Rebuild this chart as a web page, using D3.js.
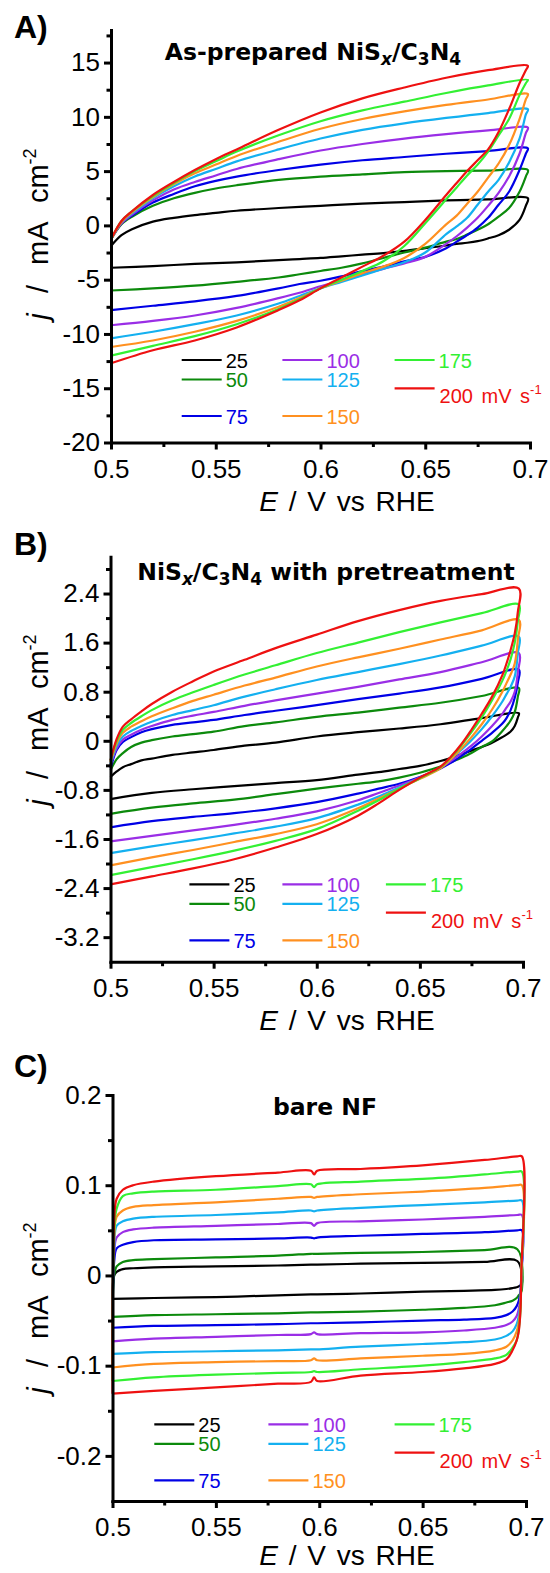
<!DOCTYPE html>
<html>
<head>
<meta charset="utf-8">
<script src="https://cdn.jsdelivr.net/npm/d3@7"></script>
<style>
  html, body { margin: 0; padding: 0; background: #fff; }
  svg text { font-family: "Liberation Sans", Arial, Helvetica, sans-serif; }
  .title { font-family: "DejaVu Sans", sans-serif; font-weight: bold; }
</style>
</head>
<body>
<svg id="chart" width="550" height="1573"></svg>
<script>
// Cyclic voltammograms at different scan rates, three panels.
const rates = [25, 50, 75, 100, 125, 150, 175, 200];
const colors = ["#000000", "#0c8a0c", "#0000e6", "#9a2ee6", "#14b0f0", "#ff9020", "#33f033", "#ee1111"];

const xMajor = [0.5, 0.55, 0.6, 0.65, 0.7];
const xMinor = [0.525, 0.575, 0.625, 0.675];

// Panel A: as-prepared (mA cm-2)
const aFwdE = [0.5, 0.505, 0.51, 0.52, 0.53, 0.54, 0.55, 0.56, 0.58, 0.6, 0.62, 0.64, 0.66, 0.68, 0.699];
const aFwdJ = [
  [-1.9, -0.9, -0.35, 0.35, 0.7, 0.95, 1.15, 1.35, 1.6, 1.8, 2.0, 2.15, 2.3, 2.4, 2.5],
  [-1.3, 0.1, 0.8, 1.8, 2.5, 3.0, 3.4, 3.7, 4.2, 4.5, 4.7, 4.9, 5.0, 5.05, 5.1],
  [-1.3, 0.2, 0.9, 2.1, 2.9, 3.6, 4.1, 4.5, 5.1, 5.6, 6.0, 6.3, 6.6, 6.85, 7.1],
  [-1.3, 0.2, 1.0, 2.3, 3.3, 4.0, 4.6, 5.2, 6.1, 6.9, 7.5, 8.0, 8.4, 8.75, 9.0],
  [-1.3, 0.3, 1.1, 2.5, 3.6, 4.5, 5.2, 5.9, 7.0, 8.0, 8.8, 9.4, 9.9, 10.35, 10.7],
  [-1.3, 0.3, 1.2, 2.6, 3.8, 4.8, 5.6, 6.4, 7.7, 8.9, 9.8, 10.5, 11.1, 11.6, 12.1],
  [-1.3, 0.4, 1.3, 2.7, 3.9, 5.0, 5.9, 6.8, 8.3, 9.6, 10.6, 11.4, 12.2, 12.9, 13.4],
  [-1.3, 0.4, 1.3, 2.8, 4.0, 5.1, 6.1, 7.0, 8.8, 10.4, 11.7, 12.7, 13.6, 14.3, 14.7]
];
const aRevE = [0.699, 0.698, 0.695, 0.69, 0.685, 0.68, 0.675, 0.67, 0.665, 0.66, 0.65, 0.64, 0.63, 0.62, 0.61, 0.6, 0.59, 0.58, 0.56, 0.54, 0.52, 0.5];
const aRevJ = [
  [2.5, 1.8, 0.5, -0.4, -0.9, -1.2, -1.45, -1.6, -1.7, -1.85, -2.1, -2.35, -2.55, -2.7, -2.85, -3.0, -3.1, -3.2, -3.4, -3.55, -3.75, -3.9],
  [5.1, 4.5, 3.1, 1.6, 0.8, 0.1, -0.4, -0.85, -1.25, -1.5, -2.05, -2.5, -3.0, -3.5, -3.9, -4.2, -4.5, -4.8, -5.2, -5.55, -5.8, -6.0],
  [7.1, 6.6, 5.1, 3.1, 1.9, 0.7, -0.2, -0.9, -1.5, -2.1, -2.9, -3.3, -3.8, -4.2, -4.7, -5.1, -5.4, -5.8, -6.5, -7.0, -7.4, -7.8],
  [9.0, 8.5, 6.6, 4.5, 3.0, 1.8, 0.7, -0.2, -1.0, -1.7, -2.9, -3.5, -4.0, -4.5, -5.1, -5.6, -6.2, -6.7, -7.6, -8.3, -8.8, -9.2],
  [10.7, 10.2, 8.0, 5.8, 4.2, 3.1, 1.9, 0.7, -0.1, -0.8, -2.5, -3.4, -4.0, -4.6, -5.2, -5.8, -6.5, -7.2, -8.3, -9.1, -9.8, -10.4],
  [12.1, 11.6, 9.8, 7.4, 5.7, 4.4, 3.1, 2.0, 0.9, 0.1, -1.7, -3.0, -3.8, -4.4, -5.1, -5.8, -6.7, -7.5, -8.8, -9.8, -10.6, -11.2],
  [13.4, 13.1, 12.0, 9.8, 8.3, 6.8, 5.6, 4.6, 3.5, 2.4, 0.2, -1.9, -3.3, -4.2, -5.0, -5.8, -6.8, -7.7, -9.1, -10.2, -11.1, -12.0],
  [14.7, 14.3, 13.1, 10.7, 8.6, 7.0, 6.0, 5.0, 3.9, 2.8, 0.5, -1.5, -2.8, -3.8, -4.8, -5.8, -6.9, -7.8, -9.4, -10.6, -11.5, -12.7]
];

// Panel B: with pretreatment
const bFwdE = [0.5, 0.503, 0.506, 0.51, 0.515, 0.52, 0.53, 0.54, 0.55, 0.565, 0.58, 0.6, 0.62, 0.64, 0.66, 0.68, 0.698];
const bFwdJ = [
  [-0.59, -0.5, -0.43, -0.38, -0.32, -0.29, -0.23, -0.19, -0.15, -0.08, -0.03, 0.07, 0.14, 0.2, 0.27, 0.37, 0.45],
  [-0.48, -0.3, -0.2, -0.1, -0.03, 0.01, 0.07, 0.11, 0.15, 0.24, 0.3, 0.39, 0.46, 0.54, 0.62, 0.73, 0.86],
  [-0.45, -0.15, -0.02, 0.06, 0.14, 0.19, 0.26, 0.3, 0.34, 0.42, 0.49, 0.58, 0.68, 0.77, 0.87, 1.01, 1.16],
  [-0.4, -0.12, 0.02, 0.1, 0.18, 0.24, 0.34, 0.41, 0.47, 0.57, 0.66, 0.77, 0.88, 1.0, 1.12, 1.28, 1.43],
  [-0.38, -0.08, 0.07, 0.16, 0.24, 0.31, 0.42, 0.5, 0.58, 0.72, 0.84, 0.99, 1.12, 1.25, 1.39, 1.55, 1.7],
  [-0.35, -0.04, 0.13, 0.23, 0.32, 0.4, 0.53, 0.65, 0.75, 0.9, 1.03, 1.21, 1.36, 1.5, 1.65, 1.8, 1.97],
  [-0.32, 0.0, 0.18, 0.29, 0.4, 0.5, 0.66, 0.79, 0.91, 1.08, 1.23, 1.43, 1.6, 1.77, 1.93, 2.08, 2.22],
  [-0.32, 0.03, 0.23, 0.35, 0.48, 0.6, 0.8, 0.97, 1.13, 1.32, 1.51, 1.73, 1.95, 2.13, 2.28, 2.39, 2.48]
];
const bRevE = [0.698, 0.6975, 0.696, 0.694, 0.692, 0.69, 0.685, 0.68, 0.675, 0.67, 0.665, 0.66, 0.65, 0.64, 0.63, 0.62, 0.6, 0.58, 0.56, 0.54, 0.52, 0.5];
const bRevJ = [
  [0.45, 0.38, 0.24, 0.15, 0.1, 0.06, -0.03, -0.1, -0.16, -0.22, -0.28, -0.33, -0.41, -0.46, -0.51, -0.55, -0.64, -0.69, -0.74, -0.79, -0.85, -0.95],
  [0.86, 0.72, 0.47, 0.33, 0.24, 0.16, -0.01, -0.1, -0.2, -0.28, -0.35, -0.42, -0.52, -0.6, -0.66, -0.7, -0.78, -0.87, -0.96, -1.02, -1.09, -1.19],
  [1.16, 0.95, 0.7, 0.5, 0.37, 0.28, 0.13, 0.0, -0.13, -0.25, -0.36, -0.45, -0.59, -0.7, -0.78, -0.86, -1.0, -1.1, -1.18, -1.24, -1.31, -1.41],
  [1.43, 1.12, 0.8, 0.64, 0.54, 0.44, 0.24, 0.07, -0.08, -0.21, -0.33, -0.44, -0.6, -0.73, -0.85, -0.97, -1.15, -1.27, -1.37, -1.46, -1.55, -1.64],
  [1.7, 1.43, 1.05, 0.88, 0.76, 0.64, 0.4, 0.19, 0.01, -0.15, -0.3, -0.44, -0.61, -0.76, -0.91, -1.04, -1.26, -1.4, -1.51, -1.62, -1.72, -1.83],
  [1.97, 1.65, 1.26, 1.08, 0.94, 0.8, 0.51, 0.27, 0.06, -0.13, -0.3, -0.45, -0.62, -0.78, -0.94, -1.1, -1.36, -1.52, -1.65, -1.78, -1.9, -2.03],
  [2.22, 1.95, 1.6, 1.33, 1.14, 0.98, 0.66, 0.38, 0.14, -0.08, -0.27, -0.43, -0.61, -0.78, -0.97, -1.14, -1.44, -1.63, -1.79, -1.93, -2.06, -2.19],
  [2.48, 2.1, 1.75, 1.48, 1.26, 1.07, 0.72, 0.44, 0.18, -0.06, -0.26, -0.42, -0.6, -0.8, -1.02, -1.22, -1.52, -1.74, -1.93, -2.08, -2.21, -2.34]
];

// Panel C: bare NF
const cFwdE = [0.5, 0.5008, 0.502, 0.505, 0.51, 0.52, 0.55, 0.58, 0.596, 0.5975, 0.599, 0.62, 0.65, 0.68, 0.6958, 0.698];
const cFwdJ = [
  [-0.026, 0.0, 0.004, 0.007, 0.008, 0.009, 0.01, 0.011, 0.012, 0.012, 0.012, 0.013, 0.014, 0.015, 0.016, -0.009],
  [-0.046, 0.0, 0.01, 0.015, 0.017, 0.018, 0.02, 0.022, 0.024, 0.024, 0.024, 0.025, 0.026, 0.028, 0.029, -0.016],
  [-0.058, 0.015, 0.03, 0.034, 0.037, 0.039, 0.04, 0.041, 0.042, 0.041, 0.042, 0.044, 0.046, 0.048, 0.05, 0.05],
  [-0.073, 0.025, 0.042, 0.048, 0.051, 0.053, 0.055, 0.057, 0.058, 0.055, 0.058, 0.06, 0.062, 0.065, 0.067, 0.067],
  [-0.087, 0.03, 0.055, 0.06, 0.063, 0.065, 0.067, 0.07, 0.072, 0.071, 0.072, 0.075, 0.078, 0.081, 0.083, 0.083],
  [-0.102, 0.04, 0.065, 0.072, 0.076, 0.078, 0.081, 0.085, 0.087, 0.086, 0.087, 0.09, 0.093, 0.097, 0.1, 0.1],
  [-0.117, 0.05, 0.074, 0.088, 0.091, 0.093, 0.095, 0.099, 0.101, 0.098, 0.101, 0.104, 0.107, 0.112, 0.115, 0.115],
  [-0.131, 0.06, 0.085, 0.095, 0.1, 0.104, 0.11, 0.114, 0.116, 0.112, 0.116, 0.118, 0.122, 0.128, 0.132, 0.132]
];
const cRevE = [0.698, 0.6977, 0.6973, 0.6965, 0.6955, 0.6935, 0.6905, 0.685, 0.67, 0.65, 0.62, 0.599, 0.5975, 0.596, 0.58, 0.55, 0.52, 0.5];
const cRevJ = [
  [-0.009, -0.01, -0.011, -0.012, -0.013, -0.014, -0.015, -0.016, -0.017, -0.018, -0.02, -0.021, -0.021, -0.021, -0.022, -0.024, -0.025, -0.026],
  [-0.016, -0.018, -0.02, -0.022, -0.025, -0.028, -0.03, -0.033, -0.036, -0.038, -0.04, -0.041, -0.041, -0.041, -0.042, -0.043, -0.044, -0.046],
  [0.05, 0.0, -0.018, -0.028, -0.034, -0.04, -0.044, -0.047, -0.049, -0.05, -0.052, -0.053, -0.053, -0.053, -0.054, -0.055, -0.056, -0.058],
  [0.067, 0.0, -0.025, -0.037, -0.045, -0.051, -0.055, -0.058, -0.061, -0.063, -0.064, -0.065, -0.063, -0.065, -0.066, -0.068, -0.07, -0.073],
  [0.083, 0.0, -0.03, -0.045, -0.054, -0.062, -0.067, -0.071, -0.074, -0.076, -0.079, -0.082, -0.082, -0.082, -0.083, -0.084, -0.085, -0.087],
  [0.1, 0.0, -0.035, -0.052, -0.062, -0.072, -0.079, -0.083, -0.087, -0.089, -0.092, -0.094, -0.092, -0.094, -0.095, -0.096, -0.098, -0.102],
  [0.115, 0.0, -0.04, -0.06, -0.072, -0.08, -0.088, -0.092, -0.096, -0.1, -0.104, -0.107, -0.106, -0.107, -0.108, -0.11, -0.113, -0.117],
  [0.132, 0.0, -0.04, -0.062, -0.072, -0.083, -0.093, -0.098, -0.103, -0.107, -0.111, -0.117, -0.113, -0.118, -0.12, -0.124, -0.128, -0.131]
];

const fmt1 = d => (d === 0 ? "0" : d.toFixed(1));

const panels = [
  {
    tag: "A)", tagY: 38, x0: 111, x1: 530, yTop: 30, yBot: 442.5, yDomain: [-20, 18],
    yMajor: [-20, -15, -10, -5, 0, 5, 10, 15], yMinor: [-17.5, -12.5, -7.5, -2.5, 2.5, 7.5, 12.5, 17.5],
    yFmt: d => String(d),
    title: [["As-prepared NiS"], ["x", "sub"], ["/C"], ["3", "sub"], ["N"], ["4", "sub"]],
    titleX: 313, titleY: 60, xTitleY: 511, yTitleY: 234,
    legCols: [181.7, 282.4, 394.6], legTop: 360,
    fwdE: aFwdE, fwdJ: aFwdJ, revE: aRevE, revJ: aRevJ
  },
  {
    tag: "B)", tagY: 555, x0: 110.5, x1: 523, yTop: 556.7, yBot: 961.7, yDomain: [-3.6, 3.0],
    yMajor: [-3.2, -2.4, -1.6, -0.8, 0, 0.8, 1.6, 2.4], yMinor: [-2.8, -2.0, -1.2, -0.4, 0.4, 1.2, 2.0, 2.8],
    yFmt: fmt1,
    title: [["NiS"], ["x", "sub"], ["/C"], ["3", "sub"], ["N"], ["4", "sub"], [" with pretreatment"]],
    titleX: 326, titleY: 580, xTitleY: 1030, yTitleY: 720,
    legCols: [189.4, 282.4, 385.9], legTop: 884.3,
    fwdE: bFwdE, fwdJ: bFwdJ, revE: bRevE, revJ: bRevJ
  },
  {
    tag: "C)", tagY: 1077, x0: 112.5, x1: 526, yTop: 1095, yBot: 1501, yDomain: [-0.25, 0.2],
    yMajor: [-0.2, -0.1, 0, 0.1, 0.2], yMinor: [-0.15, -0.05, 0.05, 0.15],
    yFmt: fmt1,
    title: [["bare NF"]],
    titleX: 325, titleY: 1115, xTitleY: 1565, yTitleY: 1308,
    legCols: [154.3, 268.4, 394.6], legTop: 1424.3,
    fwdE: cFwdE, fwdJ: cFwdJ, revE: cRevE, revJ: cRevJ
  }
];

const svg = d3.select("#chart");

function styleAxis(sel, size) {
  sel.attr("font-size", size).attr("font-family", null);
  sel.selectAll("line").attr("stroke", "#000").attr("stroke-width", 3);
  sel.selectAll("path.domain").attr("stroke", "#000").attr("stroke-width", 3).attr("stroke-linecap", "square");
  sel.selectAll("text").attr("fill", "#000");
}

function drawPanel(p) {
  const x = d3.scaleLinear().domain([0.5, 0.7]).range([p.x0, p.x1]);
  const y = d3.scaleLinear().domain(p.yDomain).range([p.yBot, p.yTop]);
  const g = svg.append("g");

  // curves: forward sweep then reverse sweep, black first, red on top
  const line = d3.line()
    .x(d => x(d[0]))
    .y(d => y(d[1]))
    .curve(d3.curveCatmullRom.alpha(0.5));

  rates.forEach((r, i) => {
    const pts = p.fwdE.map((e, k) => [e, p.fwdJ[i][k]])
      .concat(p.revE.map((e, k) => [e, p.revJ[i][k]]));
    const uniq = pts.filter((q, k) => k === 0 || q[0] !== pts[k - 1][0] || q[1] !== pts[k - 1][1]);
    g.append("path")
      .attr("d", line(uniq))
      .attr("fill", "none")
      .attr("stroke", colors[i])
      .attr("stroke-width", 2.2)
      .attr("stroke-linejoin", "round");
  });

  // axes (minor ticks first, then major with labels)
  const xg = g.append("g").attr("transform", `translate(0,${p.yBot})`);
  xg.append("g").call(d3.axisBottom(x).tickValues(xMinor).tickSize(4.5).tickSizeOuter(0).tickFormat(""))
    .call(s => s.select(".domain").remove())
    .call(s => styleAxis(s, 26));
  xg.append("g").call(d3.axisBottom(x).tickValues(xMajor).tickSize(7).tickSizeOuter(0).tickPadding(10)
      .tickFormat(d => String(+d.toFixed(2))))
    .call(s => styleAxis(s, 26));

  const yg = g.append("g").attr("transform", `translate(${p.x0},0)`);
  yg.append("g").call(d3.axisLeft(y).tickValues(p.yMinor).tickSize(4.5).tickSizeOuter(0).tickFormat(""))
    .call(s => s.select(".domain").remove())
    .call(s => styleAxis(s, 26));
  yg.append("g").call(d3.axisLeft(y).tickValues(p.yMajor).tickSize(7).tickSizeOuter(0).tickPadding(4)
      .tickFormat(p.yFmt))
    .call(s => styleAxis(s, 26));

  // panel tag
  g.append("text").attr("x", 14).attr("y", p.tagY)
    .attr("font-size", 32).attr("font-weight", "bold").text(p.tag);

  // title
  const t = g.append("text").attr("class", "title")
    .attr("x", p.titleX).attr("y", p.titleY)
    .attr("text-anchor", "middle").attr("font-size", 23.5);
  p.title.forEach(([s, kind]) => {
    const ts = t.append("tspan").text(s);
    if (kind === "sub") {
      ts.attr("font-size", 17).attr("dy", 5);
      if (s === "x") ts.attr("font-style", "italic");
    } else if (t.selectAll("tspan").size() > 1) {
      ts.attr("dy", -5);
    }
  });

  // x title
  const xt = g.append("text").attr("x", 347).attr("y", p.xTitleY)
    .attr("text-anchor", "middle").attr("font-size", 28).attr("word-spacing", 3);
  xt.append("tspan").attr("font-style", "italic").text("E");
  xt.append("tspan").text(" / V vs RHE");

  // y title
  const yt = g.append("text")
    .attr("transform", `translate(48,${p.yTitleY}) rotate(-90)`)
    .attr("text-anchor", "middle").attr("font-size", 29).attr("word-spacing", 12);
  yt.append("tspan").attr("font-style", "italic").text("j");
  yt.append("tspan").text(" / mA cm");
  yt.append("tspan").attr("font-size", 18).attr("dy", -12).text("-2");

  // legend
  const rowOff = [0, 19.5, 56];
  rates.forEach((r, i) => {
    const col = Math.floor(i / 3), row = i % 3;
    const lx = p.legCols[col];
    const ly = p.legTop + (i === 7 ? 28.3 : rowOff[row]);
    g.append("line")
      .attr("x1", lx).attr("x2", lx + 40).attr("y1", ly).attr("y2", ly)
      .attr("stroke", colors[i]).attr("stroke-width", 2.2);
    if (i < 7) {
      g.append("text").attr("x", lx + 44).attr("y", ly + 7.5)
        .attr("font-size", 20).attr("fill", colors[i]).text(r);
    } else {
      const lt = g.append("text").attr("x", lx + 45).attr("y", ly + 15)
        .attr("font-size", 20).attr("fill", colors[i]).attr("word-spacing", 3);
      lt.append("tspan").text(r + " mV s");
      lt.append("tspan").attr("font-size", 13).attr("dy", -9).text("-1");
    }
  });
}

panels.forEach(drawPanel);
</script>
</body>
</html>
